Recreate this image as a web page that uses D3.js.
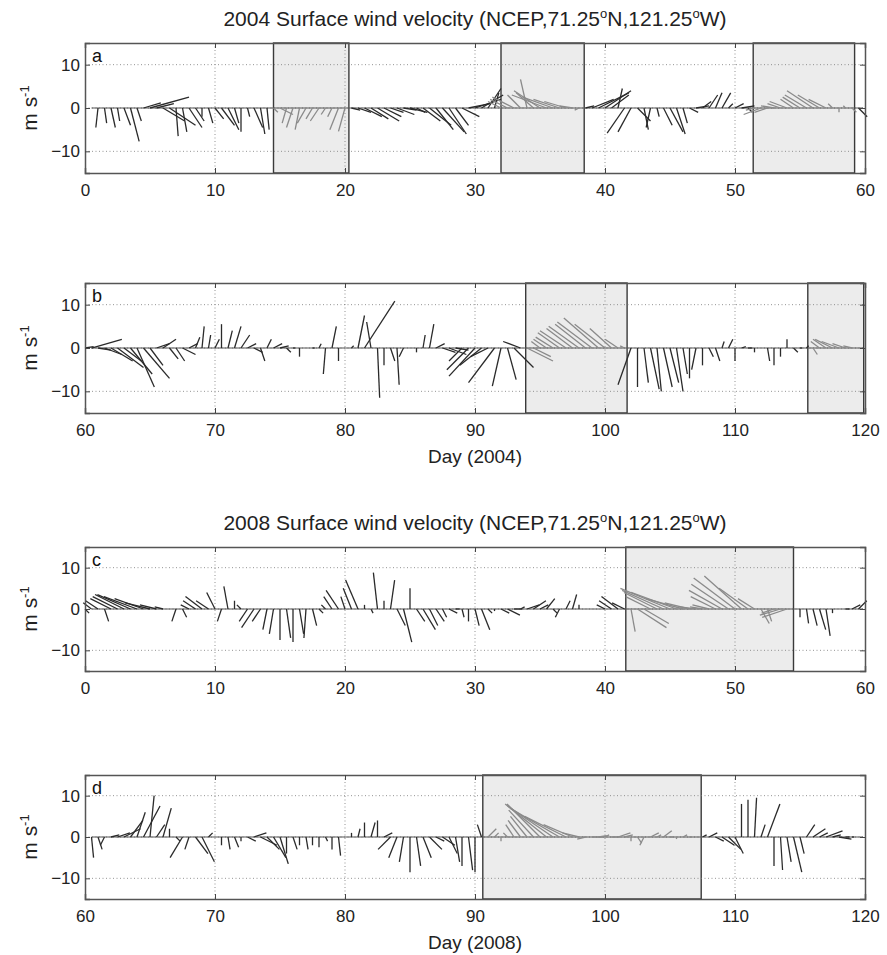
<!DOCTYPE html>
<html>
<head>
<meta charset="utf-8">
<script src="https://cdn.jsdelivr.net/npm/d3@7"></script>
<style>
  html, body { margin: 0; padding: 0; background: #fff; }
  svg { display: block; font-family: "Liberation Sans", Arial, Helvetica, sans-serif; }
</style>
</head>
<body>
<svg id="chart" width="887" height="955"></svg>
<script>
// wind sticks, one every half day; u = east component, v = north component (m/s)
const STEP = 0.5;

// panel a: 2004, days 0-60
const startA = 0;
const uA = [0, 0, -0.5, 0.5, 1, 0.5, 1.5, 2, 1, 4,
  9, 4, 5, 6, 0.5, 1, 3, 2, 0, 1,
  2, 3, 2.5, 1, 0, 0.5, 2, 1, 0.5, 1,
  3, -1, -1.5, -1, -2, -1.5, -2, -1, -1, -2,
  -1.5, 2, 3, 4, 4, 5, 4, 3, 4, 3,
  4, 2, 4, 5, 4, 5, 4, 3, 4, 5,
  6, 5, 3, 1, -3, -4, -5, -3, -1.5, -4,
  -6, -8, -7, -6, -5, -3, -1, 2, 5, 7,
  6, 4, 1, -4, -3, 3, 1, -1, 0.5, 2,
  3, 2, 1, 2, 3, 2, 2, 1.5, 2, 1,
  2, 3, 1, -2, -4, -3, -3, -3, -4, -3,
  -4, -5, -6, -5, -4, -1, 0, -0.5, 1, 2];
const vA = [0, 0, -4.5, -3.5, -4.5, -3, -4, -7.7, -3, 1.2,
  2.5, 1, -3, -4, -6.5, -5.5, -4.5, -3, -2, -3.5,
  -2.5, -4, -5, -3.5, -5.5, -2, -4.5, -6, -5, -1,
  -1.5, -3.5, -4.5, -5, -3.5, -2.5, -3, -1.5, -2, -5,
  -5.4, -0.5, -1, -2, -2.5, -3, -2, -1, -1.5, -0.5,
  -1, -1, -3, -4, -5, -5.5, -6, -4, -2, 1,
  2, 3, 4.5, 3.5, 1.5, 2, 2.5, 3, 6.6, 3.5,
  4, 3, 2.5, 2, 1.5, 0.5, -0.5, 0.5, 2, 3.5,
  4, 3, 4.5, -5.8, -5.5, -3, -5, -4.5, -2, -4,
  -5.5, -6, -3.5, -1, 0.5, 1.5, 3, 3.5, 3.5, 1,
  1, 0.5, -1, -0.5, -1.5, -1, 0.5, 1, 1.5, 2,
  2.5, 3, 4, 3, 2, 1, -1, 0.5, -1, -2];
const shadeA = [[14.5, 20.3], [32.0, 38.4], [51.4, 59.2]];

// panel b: 2004, days 60-120
const startB = 60;
const uB = [2, 7, 3, 4, 5, 6, 4, 5, 4, 6,
  3, 3, 3, 2, 2, 3, 2, 1, 0.5, 0.5,
  1, 0, 1, 1.5, 2, 2, 2, 1, 1, 2,
  2, 1, 0.5, 0, 0, 0.5, 0.5, -0.5, 1, 0,
  0, 0.5, 1.5, 7, -1, 0.5, 0, 1, 0.5, -1,
  0, 0, 0.5, 1, 2, 3, 4, 3, -3, -5,
  -6, -5, -4, -6, -2, 2, 4.5, -4, 6, 4,
  -2, -3, -4, -5, -6, -6, -7, -7, -8, -8,
  -7, -5, -3, -1, -3, 0, 1, 2, 1, 2,
  2, 1.5, 1, 0, -1, 0, 1, 1, 0.5, 1,
  0, 1, 1, 0, 0, 0.5, 0, 0, 0, 1,
  0.5, 0.5, 1, -2, -3, -4, -4, -3, -2, 0];
const vB = [0.3, 2, -0.5, -1.5, -3, -4.5, -3, -6, -9, -7,
  -4, 1, 2, -2.5, -3, -1.5, 1, 2.5, 5, 3,
  2, 5.5, 4, 5, 3, 1, -1, -3, 2, 1,
  0.5, -1, 0, -2, 0, 0, 1, -6, 5, -3,
  0, 0.5, 7.5, 10.8, 6, -11.5, -4, -3, -8.5, -2,
  0, -1, 3, 5.5, 1, -1, -1.5, -0.5, -3, -5,
  -6.5, -4, -2, -8, -8.8, -7.3, -4.5, 1.5, -3, -2,
  1.5, 2, 2.5, 3.5, 4, 4.5, 5, 5.5, 6, 6.9,
  5.5, 4.5, 2, 0.5, -8.5, -9, -8, -9.5, -10, -9,
  -8, -10, -6, -7, -5, -4, -2, -3, 1.5, 2,
  -3, 0.3, 0, -1, 0, -3, -4, -2, 2, -1,
  0, 0.5, -1.5, 1.5, 2, 2, 1.5, 1, 0.5, 0];
const shadeB = [[93.9, 101.7], [115.6, 119.9]];

// panel c: 2008, days 0-60
const startC = 0;
const uC = [1, -2, -3, 1, -5, -6, -7, -8, -8, -7,
  -6, -4, -2, 0, -1, 1, -2, -3, -4, -3,
  -2, -1, -1, 0, -1, -2, -3, -2, -1, -1,
  0, 1, 0, 1, -0.5, 1, 1, -1, -2, -3,
  -1, -2, -3, 0, 0.5, -1, 0, 1, 2, 2,
  0, 2, 3, 2, 2, 1, 2, 1, 0.5, 0,
  1, 2, 1, 0, 2, 3, 2, 1, 3, 3,
  2, 2, 1, -1, 1, 1, 0, 0, 0, 0,
  -2, -3, -4, -3, 1, 7, 6, -6, -8, -10,
  -12, -11, -9, -6, -4, -3, -4, -6, -8, -9,
  -10, -9, -7, -4, 2, 1, -3, -5, -6, 0,
  0, 0.5, 1, 1.5, 1, 0, 0, 1, 2, 2];
const vC = [-1, 1.5, 2, -3, 2.5, 3, 3.5, 3.5, 3, 2.5,
  1.5, 1, 0.5, 0, -3, -2, 1, 2, 3, 2,
  4, -3, 5.5, 2, 1, -3, -4.5, -3, -5, -6,
  -7.5, -7, -8, -6, -7, -4, -1, 1, 3, 4.5,
  3, 5, 7, 1, -1, 8.8, 2, 7, -4, -8,
  5, -3, -5, -4, -3, -2, -1, 0, -2, -3,
  -4, -5, -1, -0.5, -1, -1.5, 0, 0.5, 1, 2,
  1, 2.5, -1, -2, 2, 3.5, 1, 0, 0, 0,
  1, 2, 3, 1.5, -5.5, -4.5, -3.5, 3, 4, 4.5,
  5, 4, 2.5, 1.5, 0.5, 0.5, 1, 3, 4.5, 6,
  7.5, 8, 5, 2.5, -3.5, -3, -1, -1.5, -2, 0,
  -2, -3.5, -4, -5, -6.5, -1, 0, 0, 1, 2];
const shadeC = [[41.6, 54.5]];

// panel d: 2008, days 60-120
const startD = 60;
const uD = [0, 0.5, 1, -1, 2, 3, 4, 3, 2, 4,
  1, 2, 2, 0, 1, -3, -1, 3, 3, 1,
  0, 0, 0.5, 1, 0, 2, 3, 4, 3, 3,
  2, 0, 1, 0, 0.5, 0, 0, 0.5, 0, 0.5,
  0, 0, 0.5, 0, 1, 0, 2, -3, -2, -1,
  0, 1, 2, 3, 2, 3, 2, 1, 0, 1,
  0, -1, 2, 1, 0, -1, -2, -3, -4, -6,
  -8, -10, -11, -12, -10, -7, -4, -2, 3, 2,
  1, 2, 3, 2, 0, 1, -1, 2, 1, 2,
  1, 0, 1, 0.5, 0, 1, 2, 2, 3, 3,
  2, 0, 0, 0.5, 1, 3, 0, 0.5, 1, 2,
  1, 2, 3, 2, 4, 2, 3, 1, 0.5, 0];
const vD = [0, -5, -3, -2, 0.5, 1, 2, 4, 6, 7.5,
  10, 3, 7, 2, -1, -5, -3, -4, -6, 1,
  0, -2, -3, -2.5, -1, -1, 1, -2, -3, -5,
  -6.5, -4, -3, -2, -3, -2, -2.5, -1, -3, -4.5,
  0, 1, 2, 3.5, 3.5, 4, 1, -3, -5, -6,
  -8.5, -7, -5, -3, -1, -2, -4, -6, -7, -8,
  -8.5, 3, 2, 1, -1, 1, 3, 4, 5, 6.5,
  8, 8, 7.5, 7, 5, 3, 1, -0.5, 0, 0.3,
  0.5, 0, 1, 0.5, -1, -1.5, -2, 1, 0.5, 1.5,
  0, -0.5, 0.5, 0, 0, 0.5, 1, -1, -2, -3,
  -4, 8, 9, 9.5, 3, 8, -7, -8, -6, -8.5,
  -4, 3, 2, 1, 1.5, 0.5, -0.5, 0, 0, 0];
const shadeD = [[90.6, 107.4]];

const yTicks = [-10, 0, 10];
const titles = [
  ["2004 Surface wind velocity (NCEP,71.25", "N,121.25", "W)"],
  ["2008 Surface wind velocity (NCEP,71.25", "N,121.25", "W)"]
];
const dayLabels = ["Day (2004)", "Day (2008)"];

// layout
const LEFT = 85, RIGHT = 865;
const FONT = "Liberation Sans, Arial, sans-serif";
const panels = [
  {tag: "a", start: startA, u: uA, v: vA, shade: shadeA, top: 43, bottom: 173, title: titles[0], xlabel: null},
  {tag: "b", start: startB, u: uB, v: vB, shade: shadeB, top: 283, bottom: 413, title: null, xlabel: dayLabels[0]},
  {tag: "c", start: startC, u: uC, v: vC, shade: shadeC, top: 547, bottom: 671, title: titles[1], xlabel: null},
  {tag: "d", start: startD, u: uD, v: vD, shade: shadeD, top: 775, bottom: 899, title: null, xlabel: dayLabels[1]},
];

const svg = d3.select("#chart");

for (const p of panels) {
  const x = d3.scaleLinear().domain([p.start, p.start + 60]).range([LEFT, RIGHT]);
  const y = d3.scaleLinear().domain([-15, 15]).range([p.bottom, p.top]);
  const g = svg.append("g");
  const xTicks = d3.range(p.start, p.start + 61, 10);

  // shaded periods
  g.selectAll("rect.shade")
    .data(p.shade)
    .join("rect")
    .attr("x", d => x(d[0]))
    .attr("y", p.top)
    .attr("width", d => x(d[1]) - x(d[0]))
    .attr("height", p.bottom - p.top)
    .attr("fill", "#ececec")
    .attr("stroke", "#3a3a3a")
    .attr("stroke-width", 1.4);

  // dotted grid
  g.selectAll("line.gx")
    .data(xTicks.slice(1, -1))
    .join("line")
    .attr("x1", d => x(d)).attr("x2", d => x(d))
    .attr("y1", p.top).attr("y2", p.bottom)
    .attr("stroke", "#777").attr("stroke-width", 0.8)
    .attr("stroke-dasharray", "1,2.5");
  g.selectAll("line.gy")
    .data(yTicks)
    .join("line")
    .attr("x1", LEFT).attr("x2", RIGHT)
    .attr("y1", d => y(d)).attr("y2", d => y(d))
    .attr("stroke", "#777").attr("stroke-width", 0.8)
    .attr("stroke-dasharray", "1,2.5");

  // sticks: tail at (t, 0), tip offset by u and v with equal pixel scaling
  const sticks = p.u.map((u, i) => ({t: p.start + i * STEP, u, v: p.v[i]}));
  const inShade = t => p.shade.some(s => t >= s[0] && t <= s[1]);

  g.append("line")
    .attr("x1", x(p.start + STEP)).attr("x2", x(p.start + 60) - 2)
    .attr("y1", y(0)).attr("y2", y(0))
    .attr("stroke", "#555").attr("stroke-width", 1.2);

  g.selectAll("line.stick")
    .data(sticks)
    .join("line")
    .attr("x1", d => x(d.t))
    .attr("y1", y(0))
    .attr("x2", d => x(d.t) + (y(0) - y(d.u)))
    .attr("y2", d => y(d.v))
    .attr("stroke", d => inShade(d.t) ? "#8a8a8a" : "#2a2a2a")
    .attr("stroke-width", 1.3);

  // axes, ticks inside on all four sides
  const ax = g.append("g");
  ax.append("g")
    .attr("transform", `translate(0,${p.bottom})`)
    .call(d3.axisBottom(x).tickValues(xTicks).tickSize(-5).tickPadding(11).tickFormat(d3.format("d")));
  ax.append("g")
    .attr("transform", `translate(0,${p.top})`)
    .call(d3.axisTop(x).tickValues(xTicks).tickSize(-5).tickFormat(""));
  ax.append("g")
    .attr("transform", `translate(${LEFT},0)`)
    .call(d3.axisLeft(y).tickValues(yTicks).tickSize(-5).tickPadding(5));
  ax.append("g")
    .attr("transform", `translate(${RIGHT},0)`)
    .call(d3.axisRight(y).tickValues(yTicks).tickSize(-5).tickFormat(""));
  ax.selectAll("g").attr("font-size", 17).attr("font-family", FONT);
  ax.selectAll(".domain").attr("stroke", "#555").attr("stroke-width", 1.5);
  ax.selectAll(".tick line").attr("stroke", "#444");
  ax.selectAll(".tick text").attr("fill", "#222");

  // panel letter
  g.append("text")
    .attr("x", LEFT + 7).attr("y", p.top + 19)
    .attr("font-size", 18).attr("fill", "#111")
    .text(p.tag);

  // y label m s^-1
  const yl = g.append("text")
    .attr("transform", `translate(37,${y(0)}) rotate(-90)`)
    .attr("text-anchor", "middle")
    .attr("font-size", 21).attr("fill", "#222");
  yl.append("tspan").text("m s");
  yl.append("tspan").attr("dy", -8).attr("font-size", 13).text("-1");

  if (p.title) {
    const t = svg.append("text")
      .attr("x", (LEFT + RIGHT) / 2).attr("y", p.top - 17)
      .attr("text-anchor", "middle")
      .attr("font-size", 21).attr("fill", "#222");
    t.append("tspan").text(p.title[0]);
    t.append("tspan").attr("dy", -8).attr("font-size", 13).text("o");
    t.append("tspan").attr("dy", 8).text(p.title[1]);
    t.append("tspan").attr("dy", -8).attr("font-size", 13).text("o");
    t.append("tspan").attr("dy", 8).text(p.title[2]);
  }
  if (p.xlabel) {
    svg.append("text")
      .attr("x", (LEFT + RIGHT) / 2).attr("y", p.bottom + 50)
      .attr("text-anchor", "middle")
      .attr("font-size", 19).attr("fill", "#222")
      .text(p.xlabel);
  }
}
</script>
</body>
</html>
